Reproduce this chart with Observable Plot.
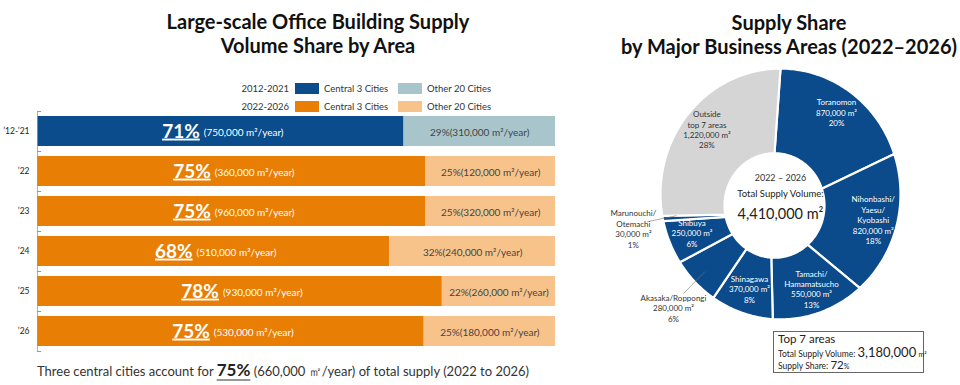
<!DOCTYPE html>
<html>
<head>
<meta charset="utf-8">
<script src="https://cdn.jsdelivr.net/npm/d3@7"></script>
<script src="https://cdn.jsdelivr.net/npm/@observablehq/plot@0.6"></script>
<style>
  body { margin: 0; background: #fff; font-family: Lato, "Noto Sans", sans-serif; }
  #wrap { position: relative; width: 960px; height: 385px; overflow: hidden; background: #fff; }
  .abs { position: absolute; }
  .title { font-weight: bold; font-size: 20px; line-height: 24px; color: #111; text-align: center; white-space: nowrap; }
  .leg { font-size: 9.5px; color: #333; line-height: 11px; white-space: nowrap; }
  .sw { position: absolute; width: 24px; height: 11px; }
  #footer { font-size: 13px; color: #333; white-space: nowrap; }
  #footer b { font-size: 17px; text-decoration: underline; text-decoration-color: #999; text-decoration-thickness: 2px; text-underline-offset: 3px; color: #222; }
  #box { border: 1px solid #666; color: #222; white-space: nowrap; }
  #box .ln { position: absolute; left: 4px; line-height: 12px; height: 12px; }
</style>
</head>
<body>
<div id="wrap"></div>
<script>
// ---------- Left chart data ----------
const periods = ["’12-’21", "’22", "’23", "’24", "’25", "’26"];
const periodEras = ["2012-2021", "2022-2026", "2022-2026", "2022-2026", "2022-2026", "2022-2026"];
const centralVolumes = [750000, 360000, 960000, 510000, 930000, 530000];
const otherVolumes = [310000, 120000, 320000, 240000, 260000, 180000];
const eraNames = ["2012-2021", "2022-2026"];
const groupNames = ["Central 3 Cities", "Other 20 Cities"];
const leftTitle = ["Large-scale Office Building Supply", "Volume Share by Area"];

// ---------- Right chart data ----------
const areaNames = ["Toranomon", "Nihonbashi/Yaesu/Kyobashi", "Tamachi/Hamamatsucho", "Shinagawa", "Akasaka/Roppongi", "Shibuya", "Marunouchi/Otemachi", "Outside top 7 areas"];
const areaLabelLines = [["Toranomon"], ["Nihonbashi/", "Yaesu/", "Kyobashi"], ["Tamachi/", "Hamamatsucho"], ["Shinagawa"], ["Akasaka/Roppongi"], ["Shibuya"], ["Marunouchi/", "Otemachi"], ["Outside", "top 7 areas"]];
const areaVolumes = [870000, 820000, 550000, 370000, 280000, 250000, 30000, 1220000];
const areaShares = [20, 18, 13, 8, 6, 6, 1, 28];
const outsideArea = "Outside top 7 areas";
const outerLabelAreas = ["Akasaka/Roppongi", "Marunouchi/Otemachi"];
const statedTotalSupply = 4410000;
const statedTop7Supply = 3180000;
const rightTitle = ["Supply Share", "by Major Business Areas (2022–2026)"];

// ---------- palette ----------
const barColors = ["#0b4c8c", "#a8c5cc", "#e87e04", "#f8c38b"]; // era x group
const donutColors = ["#0b4a8b", "#d5d5d5"];

const fmt = d3.format(",");
const wrap = document.getElementById("wrap");

function addDiv(cls, css, html) {
  const d = document.createElement("div");
  d.className = "abs " + cls;
  Object.assign(d.style, css);
  d.innerHTML = html;
  wrap.appendChild(d);
  return d;
}

// ---------- titles ----------
addDiv("title", {left: "118px", top: "9px", width: "400px"}, leftTitle.join("<br>"));
addDiv("title", {left: "609px", top: "10px", width: "360px"}, rightTitle.join("<br>"));

// ---------- legend ----------
const keys = [];
eraNames.forEach(era => groupNames.forEach(g => keys.push(era + "|" + g)));
eraNames.forEach((era, ei) => {
  const top = 83 + ei * 18;
  addDiv("leg", {left: "230px", top: top + "px", width: "59px", textAlign: "right"}, era);
  groupNames.forEach((g, gi) => {
    const x0 = 295 + gi * 103;
    addDiv("sw", {left: x0 + "px", top: top + "px", background: barColors[ei * 2 + gi]}, "");
    addDiv("leg", {left: (x0 + 29) + "px", top: top + "px"}, g);
  });
});

// ---------- left bars ----------
const rows = periods.flatMap((p, i) => {
  const c = centralVolumes[i], o = otherVolumes[i], s = c / (c + o) * 100;
  const era = periodEras[i];
  return [
    {period: p, key: era + "|" + groupNames[0], type: "central", x1: 0, x2: s, mid: s / 2, volume: c, pct: Math.round(s)},
    {period: p, key: era + "|" + groupNames[1], type: "other", x1: s, x2: 100, mid: (s + 100) / 2, volume: o, pct: Math.round(100 - s)}
  ];
});
const centralRows = rows.filter(d => d.type === "central");
const otherRows = rows.filter(d => d.type === "other");

const left = Plot.plot({
  width: 560, height: 255,
  marginLeft: 37, marginRight: 5, marginTop: 11, marginBottom: 4,
  style: {fontFamily: "Lato, sans-serif", color: "#222", background: "transparent"},
  x: {domain: [0, 100], axis: null},
  y: {domain: periods, paddingInner: 0.25, paddingOuter: 0.125, label: null},
  color: {domain: keys, range: barColors},
  marks: [
    Plot.barX(rows, {x1: "x1", x2: "x2", y: "period", fill: "key"}),
    Plot.ruleX([0], {stroke: "#999", strokeWidth: 0.8}),
    Plot.ruleY(periods, {y: d => d, x1: 0, x2: 0.8, dy: -20, stroke: "#999"}),
    Plot.ruleY(periods.slice(-1), {y: d => d, x1: 0, x2: 0.8, dy: 20, stroke: "#999"}),
    Plot.axisY({tickSize: 0, tickPadding: 8, fontSize: 8.5, label: null}),
    Plot.text(centralRows, {x: "mid", y: "period", text: d => d.pct + "%", fill: "white", fontSize: 19, fontWeight: "bold", textAnchor: "end", dx: -21}),
    Plot.text(centralRows, {x: "mid", y: "period", text: d => `(${fmt(d.volume)} m²/year)`, fill: "white", fontSize: 10, textAnchor: "start", dx: -17, dy: 1}),
    Plot.text(otherRows, {x: "mid", y: "period", text: d => `${d.pct}%(${fmt(d.volume)} m²/year)`, fill: "#444", fontSize: 10, dy: 1})
  ]
});
left.style.position = "absolute";
left.style.left = "0px";
left.style.top = "100px";
wrap.appendChild(left);
d3.select(left).selectAll("text").filter(function () { return /^\d+%$/.test(this.textContent); })
  .style("text-decoration", "underline")
  .style("text-decoration-thickness", "2px")
  .style("text-underline-offset", "2px");

// ---------- footer ----------
const recentIdx = periodEras.map((e, i) => e === eraNames[1] ? i : -1).filter(i => i >= 0);
const recentCentral = d3.sum(recentIdx, i => centralVolumes[i]);
const recentAll = recentCentral + d3.sum(recentIdx, i => otherVolumes[i]);
const recentShare = Math.round(recentCentral / recentAll * 100);
const recentAvg = Math.round(recentCentral / recentIdx.length / 10000) * 10000;
const [y0, y1] = eraNames[1].split("-");
const footer = addDiv("", {left: "37px", top: "359px"}, `Three central cities account for <b>${recentShare}%</b> (${fmt(recentAvg)} ㎡/year) of total supply (${y0} to ${y1})`);
footer.id = "footer";

// ---------- donut ----------
const sumVolumes = d3.sum(areaVolumes);
const R = 120, r = 50, hc = {u: -6, v: 11};
let acc = 0;
const slices = areaNames.map((name, i) => {
  const a0 = acc / sumVolumes * 2 * Math.PI;
  acc += areaVolumes[i];
  const a1 = acc / sumVolumes * 2 * Math.PI;
  return {name, i, a0, a1, mid: (a0 + a1) / 2, group: name === outsideArea ? "outside" : "top",
          text: [...areaLabelLines[i], fmt(areaVolumes[i]) + " m²", areaShares[i] + "%"].join("\n")};
});
const pts = slices.flatMap(s => {
  const n = Math.max(2, Math.ceil((s.a1 - s.a0) / (Math.PI / 180)));
  const out = [];
  for (let k = 0; k <= n; k++) {
    const a = s.a0 + (s.a1 - s.a0) * k / n;
    out.push({name: s.name, group: s.group, u: R * Math.sin(a), v: -R * Math.cos(a)});
  }
  for (let k = n; k >= 0; k--) {
    const a = s.a0 + (s.a1 - s.a0) * k / n;
    out.push({name: s.name, group: s.group, u: hc.u + r * Math.sin(a), v: hc.v - r * Math.cos(a)});
  }
  out.push(out[0]);
  return out;
});
const LR = 96, LRo = 150;
const insideTop = slices.filter(s => s.group === "top" && !outerLabelAreas.includes(s.name));
const insideOut = slices.filter(s => s.group === "outside");
const outerLab = slices.filter(s => outerLabelAreas.includes(s.name));
const top7Share = d3.sum(slices.filter(s => s.group === "top"), s => areaShares[s.i]);

const right = Plot.plot({
  width: 370, height: 325, margin: 0,
  style: {fontFamily: "Lato, sans-serif", background: "transparent"},
  x: {domain: [-190, 180], range: [0, 370], axis: null},
  y: {domain: [-127.75, 183.25], range: [0, 325], axis: null},
  color: {domain: ["top", "outside"], range: donutColors},
  marks: [
    Plot.line(pts, {x: "u", y: "v", z: "name", fill: "group", stroke: "white", strokeWidth: 2.2}),
    Plot.text(insideTop, {x: d => LR * Math.sin(d.mid), y: d => -LR * Math.cos(d.mid), text: "text", fill: "white", fontSize: 8, lineHeight: 1.3}),
    Plot.text(insideOut, {x: d => LR * Math.sin(d.mid), y: d => -LR * Math.cos(d.mid), text: "text", fill: "#333", fontSize: 8, lineHeight: 1.3}),
    Plot.link(outerLab, {x1: d => 106 * Math.sin(d.mid), y1: d => -106 * Math.cos(d.mid), x2: d => 136 * Math.sin(d.mid), y2: d => -136 * Math.cos(d.mid), stroke: "#777", strokeWidth: 0.6}),
    Plot.text(outerLab, {x: d => LRo * Math.sin(d.mid), y: d => -LRo * Math.cos(d.mid), text: "text", fill: "#333", fontSize: 8, lineHeight: 1.3, dy: 4}),
    Plot.text([eraNames[1].replace("-", " – ")], {x: () => 0, y: () => 0, dy: -16, text: d => d, fontSize: 9, fill: "#333"}),
    Plot.text(["Total Supply Volume:"], {x: () => 0, y: () => 0, dy: 0, text: d => d, fontSize: 9.5, fill: "#222"}),
    Plot.text([statedTotalSupply], {x: () => 0, y: () => 0, dy: 20, text: d => fmt(d) + " m²", fontSize: 14.5, fill: "#222"})
  ]
});
right.style.position = "absolute";
right.style.left = "590px";
right.style.top = "60px";
wrap.appendChild(right);

// ---------- top 7 box ----------
addDiv("", {left: "773px", top: "331px", width: "149px", height: "40px"}, `
  <div class="ln" style="top:1px;font-size:11.5px;">Top 7 areas</div>
  <div class="ln" style="top:14px;font-size:8.5px;">Total Supply Volume: <span style="font-size:13px">${fmt(statedTop7Supply)}</span> <span style="font-size:7px">m²</span></div>
  <div class="ln" style="top:27px;font-size:8.5px;">Supply Share: <span style="font-size:11.5px">${top7Share}</span><span style="font-size:7px">%</span></div>
`).id = "box";
</script>
</body>
</html>
